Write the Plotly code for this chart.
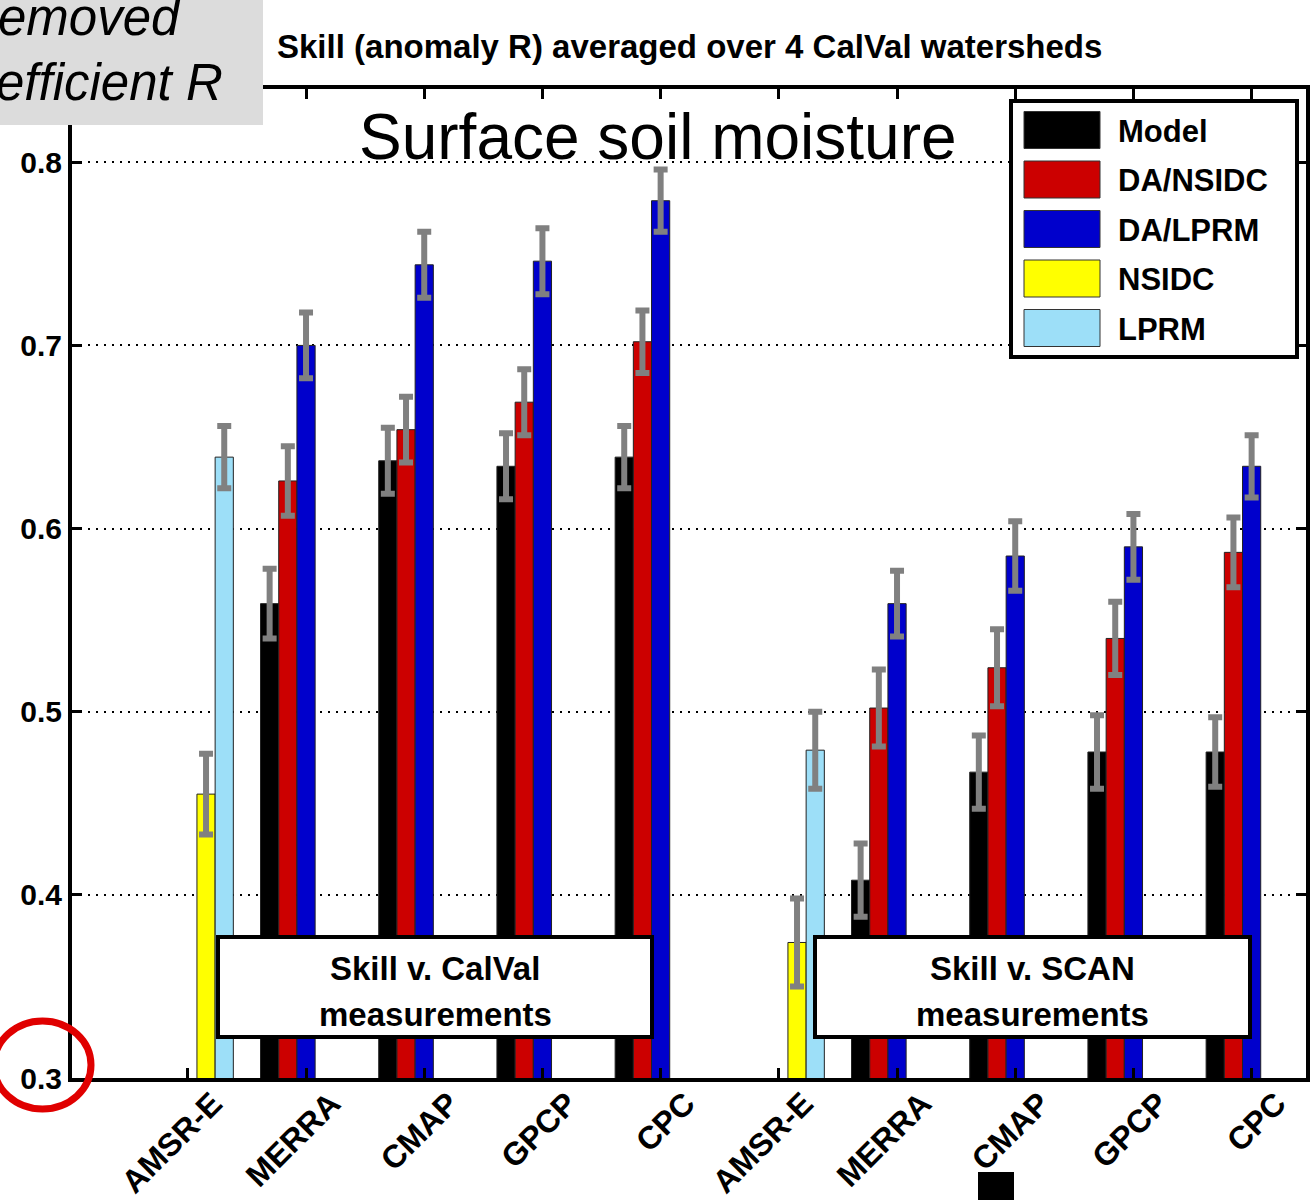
import plotly.graph_objects as go

# ---------------- data ----------------
categories = ["AMSR-E", "MERRA", "CMAP", "GPCP", "CPC",
              "AMSR-E", "MERRA", "CMAP", "GPCP", "CPC"]
series_names = ["Model", "DA/NSIDC", "DA/LPRM", "NSIDC", "LPRM"]
series_colors = ["#000000", "#cc0000", "#0000cc", "#ffff00", "#9ddff8"]

model    = [None, 0.559, 0.637, 0.634, 0.639, None, 0.408, 0.467, 0.478, 0.478]
da_nsidc = [None, 0.626, 0.654, 0.669, 0.702, None, 0.502, 0.524, 0.540, 0.587]
da_lprm  = [None, 0.700, 0.744, 0.746, 0.779, None, 0.559, 0.585, 0.590, 0.634]
nsidc    = [0.455, None, None, None, None, 0.374, None, None, None, None]
lprm     = [0.639, None, None, None, None, 0.479, None, None, None, None]

model_err    = [0, 0.019, 0.018, 0.018, 0.017, 0, 0.020, 0.020, 0.020, 0.019]
da_nsidc_err = [0, 0.019, 0.018, 0.018, 0.017, 0, 0.021, 0.021, 0.020, 0.019]
da_lprm_err  = [0, 0.018, 0.018, 0.018, 0.017, 0, 0.018, 0.019, 0.018, 0.017]
nsidc_err    = [0.022, 0, 0, 0, 0, 0.024, 0, 0, 0, 0]
lprm_err     = [0.017, 0, 0, 0, 0, 0.021, 0, 0, 0, 0]

y_ticks = [0.3, 0.4, 0.5, 0.6, 0.7, 0.8]
title_text = "Skill (anomaly R) averaged over 4 CalVal watersheds"
box_lines = [["Skill v. CalVal", "measurements"], ["Skill v. SCAN", "measurements"]]

all_values = [model, da_nsidc, da_lprm, nsidc, lprm]
all_errors = [model_err, da_nsidc_err, da_lprm_err, nsidc_err, lprm_err]

# ---------------- geometry helpers (pixels -> paper) ----------------
W, H = 1315, 1200
L, R, T, B = 72, 1306, 89, 1078
PW, PH = R - L, B - T


def px(x):
    return (x - L) / PW


def py(y):
    return (B - y) / PH


FONT = "Liberation Sans, Arial, Helvetica, sans-serif"
xpos = list(range(1, len(categories) + 1))

fig = go.Figure()
for name, color, vals, errs in zip(series_names, series_colors, all_values, all_errors):
    fig.add_trace(go.Bar(
        x=xpos, y=vals, name=name,
        marker=dict(color=color, line=dict(color="#222222", width=1)),
        error_y=dict(type="data", array=errs, visible=True,
                     color="#808080", thickness=6, width=7),
        showlegend=False,
    ))

shapes = []
annotations = []

# top-left grey note box
shapes.append(dict(type="rect", xref="paper", yref="paper",
                   x0=px(-5), x1=px(263), y0=py(125), y1=py(-5),
                   fillcolor="#dcdcdc", line=dict(width=0), layer="above"))
annotations.append(dict(xref="paper", yref="paper", x=px(-4), y=py(18),
                        xanchor="left", yanchor="middle", showarrow=False,
                        text="<i>emoved</i>",
                        font=dict(family=FONT, size=51, color="black")))
annotations.append(dict(xref="paper", yref="paper", x=px(-6), y=py(82),
                        xanchor="left", yanchor="middle", showarrow=False,
                        text="<i>efficient R</i>",
                        font=dict(family=FONT, size=51, color="black")))

# title
annotations.append(dict(xref="paper", yref="paper", x=px(689), y=py(47),
                        xanchor="center", yanchor="middle", showarrow=False,
                        text=title_text,
                        font=dict(family=FONT, size=33, color="black", weight="bold")))

# big in-plot label
annotations.append(dict(xref="paper", yref="paper", x=px(658), y=py(137),
                        xanchor="center", yanchor="middle", showarrow=False,
                        text="Surface soil moisture",
                        font=dict(family=FONT, size=64, color="black")))

# custom legend
shapes.append(dict(type="rect", xref="paper", yref="paper",
                   x0=px(1011), x1=px(1297), y0=py(357), y1=py(101),
                   fillcolor="white", line=dict(color="black", width=4), layer="above"))
for i, (name, color) in enumerate(zip(series_names, series_colors)):
    yc = 130 + i * 49.5
    shapes.append(dict(type="rect", xref="paper", yref="paper",
                       x0=px(1024), x1=px(1100), y0=py(yc + 18.5), y1=py(yc - 18.5),
                       fillcolor=color, line=dict(color="#333333", width=1), layer="above"))
    annotations.append(dict(xref="paper", yref="paper", x=px(1116), y=py(yc + 1),
                            xanchor="left", yanchor="middle", showarrow=False,
                            text=name,
                            font=dict(family=FONT, size=31, color="black", weight="bold")))

# text boxes
for (x0, x1), lines in zip([(218, 652), (815, 1250)], box_lines):
    shapes.append(dict(type="rect", xref="paper", yref="paper",
                       x0=px(x0), x1=px(x1), y0=py(1037), y1=py(937),
                       fillcolor="white", line=dict(color="black", width=4), layer="above"))
    for ly, txt in zip([968, 1014], lines):
        annotations.append(dict(xref="paper", yref="paper", x=px((x0 + x1) / 2), y=py(ly),
                                xanchor="center", yanchor="middle", showarrow=False,
                                text=txt,
                                font=dict(family=FONT, size=33, color="black", weight="bold")))

# red circle highlight
shapes.append(dict(type="circle", xref="paper", yref="paper",
                   x0=px(-6), x1=px(91), y0=py(1109), y1=py(1021),
                   line=dict(color="#e00000", width=7), layer="above"))

# black square at bottom
shapes.append(dict(type="rect", xref="paper", yref="paper",
                   x0=px(978), x1=px(1014), y0=py(1205), y1=py(1172),
                   fillcolor="black", line=dict(width=0), layer="above"))

fig.update_layout(
    width=W, height=H,
    margin=dict(l=L, r=W - R, t=T, b=H - B, pad=0, autoexpand=False),
    paper_bgcolor="white", plot_bgcolor="white",
    barmode="group", bargap=0.23, bargroupgap=0,
    shapes=shapes, annotations=annotations,
    showlegend=False,
)
fig.update_xaxes(
    range=[0.02, 10.46], tickvals=xpos, ticktext=categories,
    tickangle=-45, ticklabelshift=25, ticklabelstandoff=-10,
    tickfont=dict(family=FONT, size=32, color="black", weight="bold"),
    showline=True, linecolor="black", linewidth=4, mirror="ticks",
    ticks="inside", ticklen=10, tickwidth=3, tickcolor="black",
    showgrid=False, zeroline=False, automargin=False,
)
fig.update_yaxes(
    range=[0.3, 0.84], tickvals=y_ticks, ticktext=[f"{v:.1f}" for v in y_ticks],
    tickfont=dict(family=FONT, size=30, color="black", weight="bold"),
    showline=True, linecolor="black", linewidth=4, mirror="ticks",
    ticks="inside", ticklen=10, tickwidth=3, tickcolor="black",
    showgrid=True, gridcolor="black", gridwidth=2, griddash="2px,6px",
    zeroline=False, ticklabelstandoff=0, automargin=False,
)

fig.write_html(
    "out.html",
    config={"displayModeBar": False},
    post_script="document.body.style.margin='0';document.body.style.padding='0';"
                "document.documentElement.style.overflow='hidden';",
)
